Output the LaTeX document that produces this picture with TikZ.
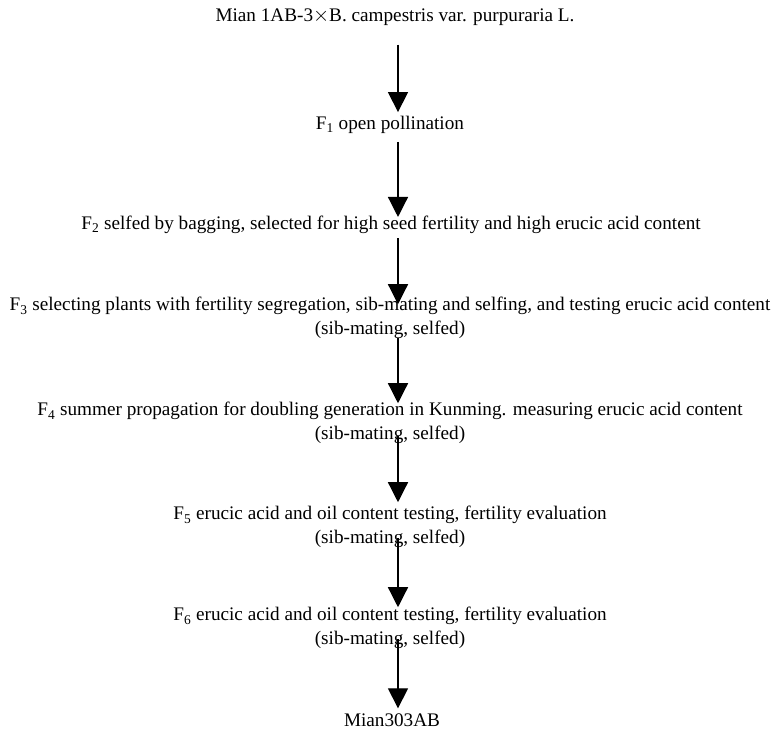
\documentclass[tikz,border=0pt]{standalone}
\usepackage{fontspec}
\setmainfont{Liberation Serif}
\usetikzlibrary{arrows.meta}

\begin{document}
\begin{tikzpicture}[x=1pt, y=-1pt,
  stage/.style={inner sep=0pt, align=center, font=\fontsize{19.2}{23.5}\selectfont},
  flow/.style={line width=1.3pt, -{Triangle[width=20pt,length=20pt]}},
]
  \useasboundingbox (0,0) rectangle (776,732);

  % Parents and generations
  \node[stage] (parents) at (395,17) {Mian 1AB-3$\times$B. campestris var. purpuraria L.};
  \node[stage] (f1) at (390,125) {F\textsubscript{1} open pollination};
  \node[stage] (f2) at (391,225) {F\textsubscript{2} selfed by bagging, selected for high seed fertility and high erucic acid content};
  \node[stage] (f3) at (390,318) {F\textsubscript{3} selecting plants with fertility segregation, sib-mating and selfing, and testing erucic acid content\\(sib-mating, selfed)};
  \node[stage] (f4) at (390,423) {F\textsubscript{4} summer propagation for doubling generation in Kunming. measuring erucic acid content\\(sib-mating, selfed)};
  \node[stage] (f5) at (390,527) {F\textsubscript{5} erucic acid and oil content testing, fertility evaluation\\(sib-mating, selfed)};
  \node[stage] (f6) at (390,628) {F\textsubscript{6} erucic acid and oil content testing, fertility evaluation\\(sib-mating, selfed)};
  \node[stage] (line) at (392,720) {Mian303AB};

  % Breeding steps
  \draw[flow, shorten <=19pt, shorten >=4pt] ([xshift=3pt]parents.south) -- ([xshift=8pt]f1.north);
  \draw[flow, shorten <=8pt, shorten >=-1pt] ([xshift=8pt]f1.south) -- ([xshift=7pt]f2.north);
  \draw[flow, shorten <=4pt, shorten >=-7pt] ([xshift=7pt]f2.south) -- ([xshift=8pt]f3.north);
  \draw[flow, shorten <=-1pt, shorten >=-1pt] ([xshift=8pt]f3.south) -- ([xshift=8pt]f4.north);
  \draw[flow, shorten <=-8pt, shorten >=4pt] ([xshift=8pt]f4.south) -- ([xshift=8pt]f5.north);
  \draw[flow, shorten <=-10pt, shorten >=0pt] ([xshift=8pt]f5.south) -- ([xshift=8pt]f6.north);
  \draw[flow, shorten <=-10pt, shorten >=5pt] ([xshift=8pt]f6.south) -- ([xshift=6pt]line.north);
\end{tikzpicture}
\end{document}
